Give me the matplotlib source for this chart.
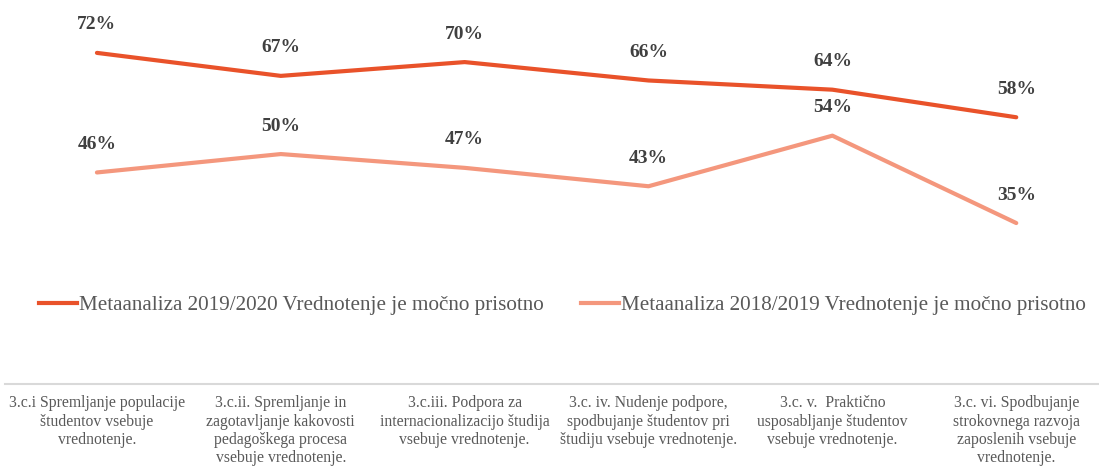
import matplotlib
matplotlib.use("Agg")
import matplotlib.pyplot as plt
from matplotlib.lines import Line2D

# %% data
categories = [
    "3.c.i Spremljanje populacije\nštudentov vsebuje\nvrednotenje.",
    "3.c.ii. Spremljanje in\nzagotavljanje kakovosti\npedagoškega procesa\nvsebuje vrednotenje.",
    "3.c.iii. Podpora za\ninternacionalizacijo študija\nvsebuje vrednotenje.",
    "3.c. iv. Nudenje podpore,\nspodbujanje študentov pri\nštudiju vsebuje vrednotenje.",
    "3.c. v.  Praktično\nusposabljanje študentov\nvsebuje vrednotenje.",
    "3.c. vi. Spodbujanje\nstrokovnega razvoja\nzaposlenih vsebuje\nvrednotenje.",
]
meta_2019_2020 = [0.72, 0.67, 0.70, 0.66, 0.64, 0.58]
meta_2018_2019 = [0.46, 0.50, 0.47, 0.43, 0.54, 0.35]
series_names = [
    "Metaanaliza 2019/2020 Vrednotenje je močno prisotno",
    "Metaanaliza 2018/2019 Vrednotenje je močno prisotno",
]
series_colors = ["#E9522A", "#F4977D"]

# %% plot
plt.rcParams['font.family'] = ['Liberation Serif', 'DejaVu Serif']
fig = plt.figure(figsize=(10.99, 4.66), dpi=100)
ax = fig.add_axes([5 / 1099, 1 - 384 / 466, 1 - 5 / 1099, 384 / 466])

x = list(range(len(categories)))
for vals, col in zip([meta_2019_2020, meta_2018_2019], series_colors):
    ax.plot(x, vals, color=col, lw=3.0, solid_capstyle='round', solid_joinstyle='round')
    for xi, v in zip(x, vals):
        ax.annotate(f"{v:.0%}", (xi, v), xytext=(0, 14), textcoords='offset points',
                    ha='center', va='bottom', fontsize=14, fontweight='bold', color='#404040')

ax.set_xlim(-0.5, 5.45)
ax.set_ylim(0, 0.835)
ax.set_yticks([])
for s in ['top', 'right', 'left']:
    ax.spines[s].set_visible(False)
ax.spines['bottom'].set_color('#D9D9D9')
ax.spines['bottom'].set_linewidth(1.5)
ax.set_xticks(x)
ax.set_xticklabels(categories, fontsize=11.3, color='#595959', linespacing=1.2,
                   multialignment='center')
ax.tick_params(axis='x', length=0, pad=8)

handles = [Line2D([], [], color=c, lw=3.0) for c in series_colors]
fig.legend(handles, series_names, loc='center left', bbox_to_anchor=(20 / 1099, 1 - 305 / 466),
           ncol=2, frameon=False, fontsize=15.2, handlelength=1.8, handletextpad=0.1,
           columnspacing=1.75, labelcolor='#595959')

fig.savefig("out.png", dpi=100)
